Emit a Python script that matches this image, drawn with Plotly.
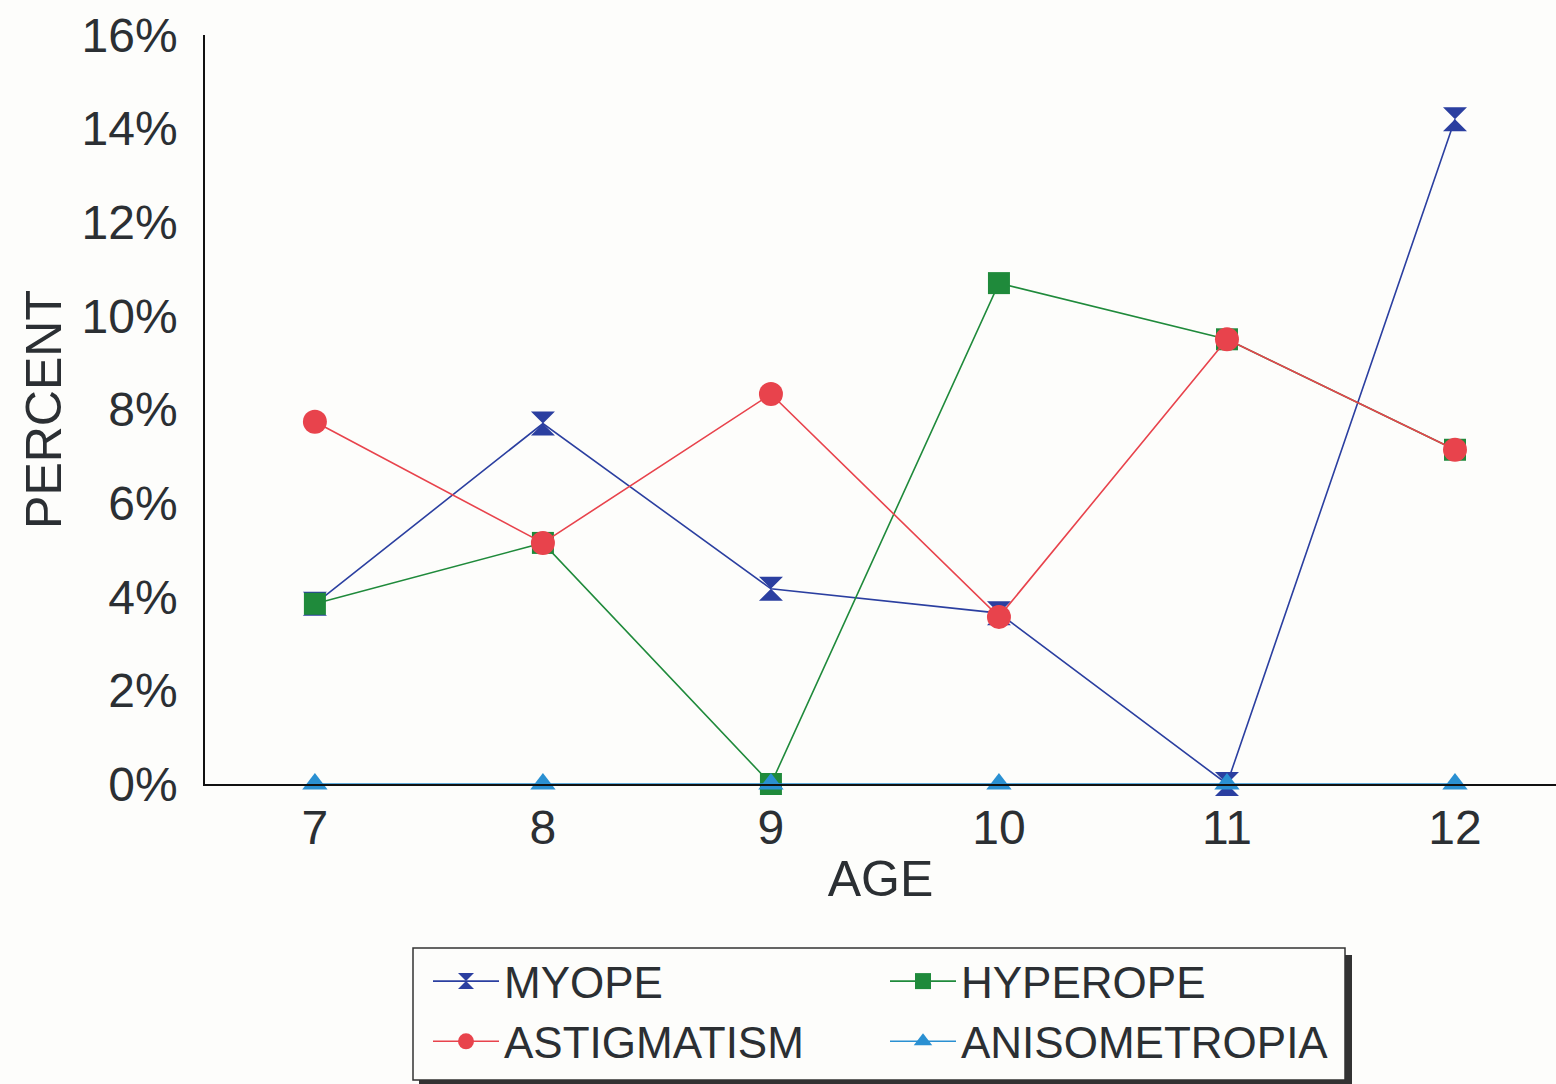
import plotly.graph_objects as go

ages = [7, 8, 9, 10, 11, 12]
myope = [3.85, 7.7, 4.17, 3.65, 0.0, 14.2]
hyperope = [3.85, 5.15, 0.0, 10.7, 9.5, 7.14]
astigmatism = [7.74, 5.15, 8.33, 3.57, 9.5, 7.14]
anisometropia = [0.0, 0.0, 0.0, 0.0, 0.0, 0.0]
y_ticks = [0, 2, 4, 6, 8, 10, 12, 14, 16]
y_tick_labels = [f"{v}%" for v in y_ticks]

W, H = 1556, 1084
L, R, T, B = 205, 0, 35, 300
PW, PH = W - L - R, H - T - B

def px(x):
    return (x - L) / PW

def py(y):
    return (H - B - y) / PH

FONT = "Liberation Sans, Arial, sans-serif"
TXT = "#2b2f33"

fig = go.Figure()
series = [
    ("MYOPE", myope, "#2b3fa0", "hourglass", 24, "legend"),
    ("HYPEROPE", hyperope, "#1f8a3b", "square", 22, "legend2"),
    ("ASTIGMATISM", astigmatism, "#e8434c", "circle", 24, "legend"),
    ("ANISOMETROPIA", anisometropia, "#2a90d2", "triangle-up", 22, "legend2"),
]
for name, vals, col, sym, size, leg in series:
    fig.add_trace(go.Scatter(
        x=ages, y=vals, name=name, mode="lines+markers",
        line=dict(color=col, width=1.6),
        marker=dict(symbol=sym, size=size, color=col),
        cliponaxis=False, legend=leg,
    ))

# legend box with shadow
fig.add_shape(type="rect", xref="paper", yref="paper",
              x0=px(419), x1=px(1352), y0=py(955), y1=py(1087),
              fillcolor="#333333", line=dict(width=0), layer="above")
fig.add_shape(type="rect", xref="paper", yref="paper",
              x0=px(413), x1=px(1345), y0=py(948), y1=py(1080),
              fillcolor="#fdfdfb", line=dict(color="#333333", width=1.5), layer="above")

legend_common = dict(
    orientation="v", bgcolor="rgba(0,0,0,0)", borderwidth=0,
    font=dict(family=FONT, size=44, color=TXT), itemwidth=66,
    xanchor="left", yanchor="top", tracegroupgap=0,
)
fig.update_layout(
    width=W, height=H,
    margin=dict(l=L, r=R, t=T, b=B, pad=0),
    paper_bgcolor="#fdfdfb", plot_bgcolor="#fdfdfb",
    font=dict(family=FONT, color=TXT),
    legend=dict(x=px(428), y=py(946), **legend_common),
    legend2=dict(x=px(885), y=py(946), **legend_common),
    xaxis=dict(
        range=[6.518, 12.443], tickvals=ages, ticktext=[str(a) for a in ages],
        showgrid=False, zeroline=False, showline=True, linecolor="#111111", linewidth=2,
        ticks="", tickfont=dict(size=48, color=TXT), ticklabelstandoff=0,
        title=dict(text="AGE", font=dict(size=50, color=TXT), standoff=8),
    ),
    yaxis=dict(
        range=[0, 16], tickvals=y_ticks, ticktext=y_tick_labels,
        showgrid=False, zeroline=False, showline=True, linecolor="#111111", linewidth=1.5,
        ticks="", tickfont=dict(size=48, color=TXT), ticklabelstandoff=16,
        title=dict(text="PERCENT", font=dict(size=50, color=TXT), standoff=4),
    ),
)

fig.write_html("out.html")
